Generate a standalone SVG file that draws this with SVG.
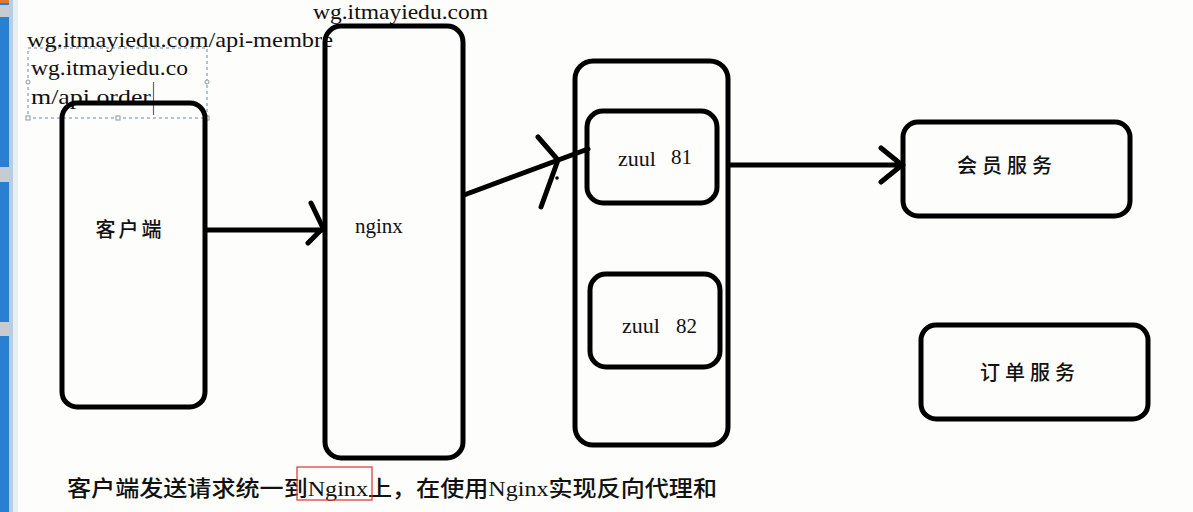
<svg xmlns="http://www.w3.org/2000/svg" width="1193" height="512" viewBox="0 0 1193 512">
<style>
.box{fill:none;stroke:#000;stroke-width:5}
.ln{fill:none;stroke:#000;stroke-width:5;stroke-linecap:round}
.t{font-family:"Liberation Serif","Noto Sans CJK SC",serif;fill:#111}
.cn{font-family:"Liberation Serif","Noto Sans CJK SC",serif;font-weight:500;fill:#111}
.sel{fill:none;stroke:#9aaed0;stroke-width:1.5;stroke-dasharray:3 3}
.h{fill:#fff;stroke:#8a96a8;stroke-width:1}
</style>
<rect width="1193" height="512" fill="#fdfdfb"/>
<g id="sidebar">
<rect x="0" y="0" width="9" height="512" fill="#2a7fd0"/>
<rect x="9" y="0" width="4" height="512" fill="#b9cde0"/>
<rect x="13" y="0" width="5" height="512" fill="#e9eef3"/>
<rect x="0" y="0" width="9" height="3" fill="#e07a2a"/>
<rect x="0" y="5" width="9" height="12" fill="#c8ccd2"/>
<rect x="0" y="167" width="9" height="15" fill="#c8ccd2"/>
<rect x="0" y="322" width="9" height="14" fill="#c8ccd2"/>
</g>
<g id="annotation">
<text class="t" x="313" y="19" font-size="22" textLength="175" lengthAdjust="spacingAndGlyphs">wg.itmayiedu.com</text>
<rect class="sel" x="28" y="48" width="179" height="70"/>
<rect class="h" x="26" y="80" width="4" height="4" rx="2"/>
<rect class="h" x="205" y="80" width="4" height="4" rx="2"/>
<rect class="h" x="26" y="116" width="4" height="4"/>
<rect class="h" x="116" y="116" width="4" height="4"/>
<rect class="h" x="205" y="116" width="4" height="4"/>
<text class="t" x="27" y="47" font-size="22" textLength="306" lengthAdjust="spacingAndGlyphs">wg.itmayiedu.com/api-membre</text>
<text class="t" x="31" y="75" font-size="22" textLength="157" lengthAdjust="spacingAndGlyphs">wg.itmayiedu.co</text>
<text class="t" x="31" y="104" font-size="22" textLength="120" lengthAdjust="spacingAndGlyphs">m/api order</text>
<line x1="153.5" y1="82" x2="153.5" y2="115" stroke="#666" stroke-width="1.2"/>
</g>
<g id="client">
<rect class="box" x="62" y="103" width="143" height="304" rx="15"/>
<text class="cn" x="130" y="237" font-size="20" text-anchor="middle" letter-spacing="3">客户端</text>
</g>
<g id="nginx">
<rect class="box" x="325" y="26" width="138" height="432" rx="16"/>
<text class="t" x="355" y="233" font-size="21">nginx</text>
</g>
<g id="zuul-cluster">
<rect class="box" x="575" y="61" width="153" height="384" rx="18"/>
</g>
<g id="zuul81">
<rect class="box" x="587" y="111" width="130" height="92" rx="16"/>
<text class="t" x="618" y="166" font-size="22">zuul</text>
<text class="t" x="671" y="164" font-size="21">81</text>
</g>
<g id="zuul82">
<rect class="box" x="590" y="274" width="130" height="93" rx="16"/>
<text class="t" x="622" y="333" font-size="22">zuul</text>
<text class="t" x="676" y="333" font-size="21">82</text>
</g>
<g id="member">
<rect class="box" x="903" y="122" width="227" height="94" rx="15"/>
<text class="cn" x="957" y="173" font-size="20" letter-spacing="5">会员服务</text>
</g>
<g id="order">
<rect class="box" x="921" y="325" width="227" height="94" rx="15"/>
<text class="cn" x="980" y="380" font-size="20" letter-spacing="5">订单服务</text>
</g>
<g id="connectors">
<path class="ln" d="M207 230 H323 M311 203 L323 228 L308 243"/>
<path class="ln" d="M464 195 L588 149 M538 137 L558 160 L541 207"/>
<circle cx="557" cy="178" r="1.8" fill="#000"/>
<path class="ln" d="M729 165 H902 M881 148 L902 165 L881 182"/>
</g>
<g id="caption">
<text class="cn" x="67" y="496" font-size="22" textLength="650" lengthAdjust="spacingAndGlyphs">客户端发送请求统一到Nginx上，在使用Nginx实现反向代理和</text>
<rect x="297" y="467" width="75" height="33" fill="none" stroke="#e03030" stroke-width="1.2"/>
</g>
</svg>
